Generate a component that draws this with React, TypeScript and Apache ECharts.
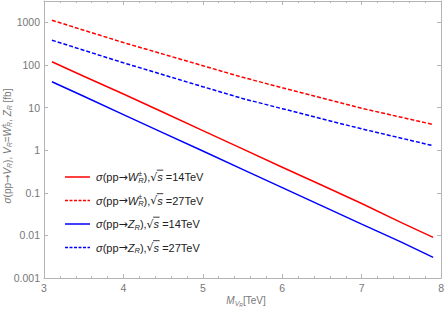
import React, { useEffect, useRef } from 'react';
import * as echarts from 'echarts';

const massTeV = [3.1, 3.5, 4, 4.5, 5, 5.5, 6, 6.5, 7, 7.5, 7.9];
const wr14 = [118.6, 54.3, 20.8, 7.73, 2.88, 1.07, 0.398, 0.15, 0.0561, 0.0199, 0.00895];
const wr27 = [1119, 653, 335, 179, 96, 51.2, 29.2, 16.7, 9.6, 5.9, 4.0];
const zr14 = [40.4, 18.4, 6.84, 2.55, 0.953, 0.354, 0.132, 0.0493, 0.0184, 0.00695, 0.00305];
const zr27 = [381, 221, 112, 58.9, 30.8, 16.3, 9.4, 5.42, 3.16, 1.91, 1.27];
const yDecades = ['0.001', '0.01', '0.1', '1', '10', '100', '1000'];
const energies = ['14', '27', '14', '27'];
const bosons = ['W', 'W', 'Z', 'Z'];

const RED = '#ff0000';
const BLUE = '#0000ff';
const FONT = '"Liberation Sans", Arial, sans-serif';
const ARROWFONT = '"DejaVu Sans", sans-serif';
const AXIS = '#b4b4b4';
const LABEL = '#777777';

type Run = { t: string; italic?: boolean; size: number; dy?: number; noAdv?: boolean; bar?: boolean; font?: string };

function measure(ctx: CanvasRenderingContext2D, r: Run) {
  ctx.font = `${r.italic ? 'italic ' : ''}${r.size}px ${r.font || FONT}`;
  return ctx.measureText(r.t).width;
}

function layout(ctx: CanvasRenderingContext2D, runs: Run[], x0: number, y0: number, color: string, center = false) {
  let total = 0;
  runs.forEach((r) => { if (!r.noAdv) total += measure(ctx, r); });
  let x = center ? x0 - total / 2 : x0;
  const els: any[] = [];
  runs.forEach((r) => {
    const w = measure(ctx, r);
    els.push({
      type: 'text', x, y: y0 + (r.dy || 0), silent: true,
      style: { text: r.t, fontSize: r.size, fontFamily: r.font || FONT, fontStyle: r.italic ? 'italic' : 'normal', fill: color, verticalAlign: 'middle', align: 'left' },
    });
    if (r.bar) {
      els.push({ type: 'line', silent: true, shape: { x1: x - 0.5, y1: y0 - r.size * 0.62, x2: x + w + 0.5, y2: y0 - r.size * 0.62 }, style: { stroke: color, lineWidth: 0.9 } });
    }
    if (!r.noAdv) x += w;
  });
  return els;
}

export default function App() {
  const ref = useRef<HTMLDivElement>(null);
  useEffect(() => {
    if (!ref.current) return;
    const chart = echarts.init(ref.current, null, { renderer: 'svg' });
    const ctx = document.createElement('canvas').getContext('2d') as CanvasRenderingContext2D;

    const fs = 11;
    const legendEls: any[] = [];
    const rowsY = [177, 200.5, 224, 247.5];
    const colors = [RED, RED, BLUE, BLUE];
    energies.forEach((e, i) => {
      const y = rowsY[i];
      legendEls.push({
        type: 'line', silent: true,
        shape: { x1: 65, y1: y, x2: 90, y2: y },
        style: { stroke: colors[i], lineWidth: 1.5, lineDash: i % 2 === 1 ? [3, 1.5] : null },
      });
      const runs: Run[] = [
        { t: 'σ', italic: true, size: fs },
        { t: '(pp', size: fs },
        { t: '→', size: fs, font: ARROWFONT },
        { t: bosons[i], italic: true, size: fs },
      ];
      if (bosons[i] === 'W') runs.push({ t: '±', size: 7, dy: -4, noAdv: true });
      runs.push({ t: 'R', italic: true, size: 7.5, dy: 3 });
      runs.push({ t: '),', size: fs });
      runs.push({ t: '√', size: fs, font: ARROWFONT });
      runs.push({ t: 's', italic: true, size: fs, bar: true });
      runs.push({ t: ' =' + e + 'TeV', size: fs });
      legendEls.push(...layout(ctx, runs, 96, y, '#222222'));
    });

    const ts = 10;
    const yTitleRuns: Run[] = [
      { t: 'σ', italic: true, size: ts },
      { t: '(pp', size: ts },
      { t: '→', size: ts, font: ARROWFONT },
      { t: 'V', italic: true, size: ts },
      { t: 'R', italic: true, size: 7, dy: 2.5 },
      { t: '), ', size: ts },
      { t: 'V', italic: true, size: ts },
      { t: 'R', italic: true, size: 7, dy: 2.5 },
      { t: '=', size: ts },
      { t: 'W', italic: true, size: ts },
      { t: '±', size: 6.5, dy: -3.5, noAdv: true },
      { t: 'R', italic: true, size: 7, dy: 2.5 },
      { t: ', ', size: ts },
      { t: 'Z', italic: true, size: ts },
      { t: 'R', italic: true, size: 7, dy: 2.5 },
      { t: ' [fb]', size: ts },
    ];
    const yTitle = { type: 'group', x: 7, y: 146, rotation: Math.PI / 2, children: layout(ctx, yTitleRuns, 0, 0, LABEL, true) };

    const xTitleRuns: Run[] = [
      { t: 'M', italic: true, size: ts },
      { t: 'V', italic: true, size: 7, dy: 2.5 },
      { t: 'R', italic: true, size: 5, dy: 4.5 },
      { t: '[TeV]', size: ts, dy: 0 },
    ];
    const xTitleEls = layout(ctx, xTitleRuns, 246, 300.5, LABEL, true);

    const mk = (name: string, data: number[], color: string, dashed: boolean) => ({
      name, type: 'line', showSymbol: false, symbol: 'none', silent: true,
      data: massTeV.map((x, i) => [x, data[i]]),
      lineStyle: { color, width: 1.5, type: dashed ? [4, 2] : 'solid' },
    });

    const xBase = {
      type: 'value', min: 3, max: 8, interval: 1,
      axisLine: { show: true, lineStyle: { color: AXIS, width: 1 } },
      axisTick: { show: true, inside: true, length: 4, lineStyle: { color: AXIS } },
      minorTick: { show: true, splitNumber: 5, length: 2, lineStyle: { color: AXIS } },
      splitLine: { show: false },
    };
    const yBase = {
      type: 'log', logBase: 10, min: 0.001, max: 3162.2776601683795, interval: 1,
      axisLine: { show: true, lineStyle: { color: AXIS, width: 1 } },
      axisTick: { show: true, inside: true, length: 4, lineStyle: { color: AXIS } },
      splitLine: { show: false },
    };

    chart.setOption({
      animation: false,
      grid: { left: 44, right: 4, top: 1, bottom: 33 },
      xAxis: [
        { ...xBase, position: 'bottom', axisLabel: { color: LABEL, fontSize: 10.5, fontFamily: FONT, margin: 4 } },
        { ...xBase, position: 'top', axisLabel: { show: false } },
      ],
      yAxis: [
        {
          ...yBase, position: 'left',
          axisLabel: {
            color: LABEL, fontSize: 10.5, fontFamily: FONT, margin: 4, showMaxLabel: false,
            formatter: (v: number) => {
              const e = Math.round(Math.log10(v));
              if (Math.abs(Math.log10(v) - e) > 1e-6) return '';
              return yDecades[e + 3] ?? '';
            },
          },
        },
        { ...yBase, position: 'right', axisLabel: { show: false } },
      ],
      series: [
        mk('wr14', wr14, RED, false),
        mk('wr27', wr27, RED, true),
        mk('zr14', zr14, BLUE, false),
        mk('zr27', zr27, BLUE, true),
      ],
      graphic: [...legendEls, yTitle, ...xTitleEls],
    });
    return () => chart.dispose();
  }, []);
  return <div ref={ref} style={{ width: 447, height: 311, position: 'absolute', left: 0, top: 0 }} />;
}
